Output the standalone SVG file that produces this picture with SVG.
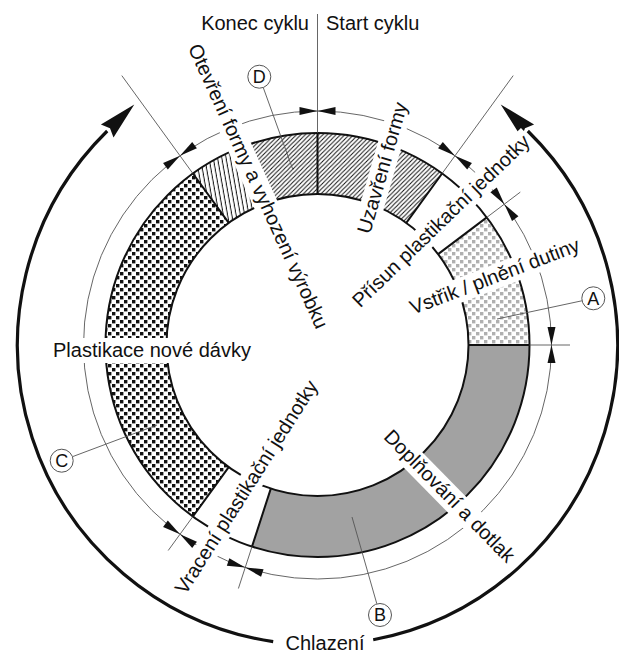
<svg xmlns="http://www.w3.org/2000/svg" width="619" height="657" viewBox="0 0 619 657">
<defs>
<style>
text{font-family:"Liberation Sans",Arial,sans-serif;font-size:20px;fill:#111}
text.lbl{font-size:18px;text-anchor:middle}
.thin{fill:none;stroke:#555;stroke-width:0.9}
.edge{fill:none;stroke:#111;stroke-width:2}
.band{fill:#fff}
.thick{fill:none;stroke:#111;stroke-width:3.2}
.circ{fill:#fff;stroke:#555;stroke-width:1}
</style>
<pattern id="pDiag" width="4.4" height="4.4" patternUnits="userSpaceOnUse"><path d="M-1,1 L1,-1 M0,4.4 L4.4,0 M3.4,5.4 L5.4,3.4" stroke="#111" stroke-width="1"/></pattern>
<pattern id="pVert" width="4.2" height="4" patternUnits="userSpaceOnUse" patternTransform="rotate(-10)"><path d="M2,-1 V5" stroke="#111" stroke-width="1"/></pattern>
<pattern id="pSq" width="8" height="8" patternUnits="userSpaceOnUse"><rect x="0" y="0" width="3.4" height="3.4" fill="#111"/><rect x="4" y="4" width="3.4" height="3.4" fill="#111"/></pattern>
<pattern id="pLight" width="8" height="8" patternUnits="userSpaceOnUse"><rect x="0" y="0" width="3.4" height="3.4" fill="#b0b0b0"/><rect x="4" y="4" width="3.4" height="3.4" fill="#b0b0b0"/></pattern>
<g id="dim" fill="#111"><polygon points="-18,-4 0,0 -18,4"/><polygon points="18,-4 0,0 18,4"/></g>
</defs>
<rect width="619" height="657" fill="#fff"/>

<g id="segments">
<path id="seg-open" d="M192.9,173.5 A212,212 0 0 1 241.5,147.1 L263.4,204 A151,151 0 0 0 228.7,222.8 Z" fill="url(#pVert)"/>
<path id="seg-D" d="M241.5,147.1 A212,212 0 0 1 442.1,173.5 L406.3,222.8 A151,151 0 0 0 263.4,204 Z" fill="url(#pDiag)"/>
<path id="seg-A" d="M486.8,217.4 A212,212 0 0 1 529.5,345 L468.5,345 A151,151 0 0 0 438.1,254.1 Z" fill="url(#pLight)"/>
<path id="seg-B" d="M529.5,345 A212,212 0 0 1 252,546.6 L270.8,488.6 A151,151 0 0 0 468.5,345 Z" fill="#a2a2a2"/>
<path id="seg-C" d="M192.9,516.5 A212,212 0 0 1 192.9,173.5 L228.7,222.8 A151,151 0 0 0 228.7,467.2 Z" fill="url(#pSq)"/>
</g>

<g id="ring-outline" class="edge">
<circle cx="317.5" cy="345" r="212"/>
<circle cx="317.5" cy="345" r="151"/>
<path d="M228.7,222.8 L192.9,173.5 M317.5,194 L317.5,133 M406.3,222.8 L442.1,173.5 M438.1,254.1 L486.8,217.4 M468.5,345 L529.5,345 M270.8,488.6 L252,546.6 M228.7,467.2 L192.9,516.5"/>
</g>

<g id="connectors">
<circle class="thin" cx="317.5" cy="345" r="234"/>
<path class="thin" d="M317.5,14 V133 M121.8,75.6 L192.9,173.5 M513.2,75.6 L442.1,173.5 M520.3,192.1 L486.8,217.4 M529.5,345 H570 M238.4,588.5 L252,546.6 M168.2,550.5 L192.9,516.5"/>
<path class="thick" d="M273.2,641.7 A300,300 0 0 1 107.2,131"/>
<path class="thick" d="M527.8,131 A300,300 0 0 1 373.2,639.8"/>
<polygon points="134.3,104.4 100.9,124.6 110,128.2 113.5,137.4" fill="#111"/>
<polygon points="500.7,104.4 534.1,124.6 525,128.2 521.5,137.4" fill="#111"/>
</g>

<g id="bands" class="band">
<rect x="-158" y="-18" width="316" height="24" transform="translate(252.1,188.9) rotate(65.5)"/>
<rect x="-71" y="-18" width="142" height="24" transform="translate(388.8,169.7) rotate(-74)"/>
<rect x="-122" y="-18" width="244" height="24" transform="translate(445.7,225.8) rotate(-44)"/>
<rect x="-93" y="-18" width="186" height="24" transform="translate(497.1,282.6) rotate(-21)"/>
<rect x="-91" y="-18" width="182" height="24" transform="translate(444.7,500.7) rotate(45.5)"/>
<rect x="-127" y="-18" width="254" height="24" transform="translate(252.1,490.7) rotate(-57.6)"/>
<rect x="50" y="338" width="208" height="25"/>
</g>

<g id="dims">
<use href="#dim" transform="translate(317.5,111)"/>
<use href="#dim" transform="translate(455,155.7) rotate(36)"/>
<use href="#dim" transform="translate(504.4,204.2) rotate(53)"/>
<use href="#dim" transform="translate(551.5,345) rotate(90)"/>
<use href="#dim" transform="translate(245.2,567.5) rotate(198)"/>
<use href="#dim" transform="translate(180,534.3) rotate(216)"/>
<use href="#dim" transform="translate(180,155.7) rotate(-36)"/>
</g>

<g id="leaders" class="thin">
<path d="M263.3,87.7 L293,170 M581.9,300.8 L497,319 M376.8,603.7 L352,517 M72.7,456.6 L157,425"/>
</g>

<g id="labels">
<text x="309" y="30" text-anchor="end">Konec cyklu</text>
<text x="326" y="30">Start cyklu</text>
<text text-anchor="middle" transform="translate(252.1,188.9) rotate(65.5)">Otevření formy a vyhození výrobku</text>
<text text-anchor="middle" transform="translate(388.8,169.7) rotate(-74)">Uzavření formy</text>
<text text-anchor="middle" transform="translate(445.7,225.8) rotate(-44)">Přísun plastikační jednotky</text>
<text text-anchor="middle" transform="translate(497.1,282.6) rotate(-21)">Vstřik / plnění dutiny</text>
<text text-anchor="middle" transform="translate(444.7,500.7) rotate(45.5)">Doplňování a dotlak</text>
<text text-anchor="middle" transform="translate(252.1,490.7) rotate(-57.6)">Vracení plastikační jednotky</text>
<text x="53" y="357">Plastikace nové dávky</text>
<text x="325" y="650" text-anchor="middle">Chlazení</text>
</g>

<g id="node-D"><circle class="circ" cx="259.3" cy="76.7" r="11.5"/><text class="lbl" x="259.3" y="83">D</text></g>
<g id="node-A"><circle class="circ" cx="593.3" cy="298.3" r="11.5"/><text class="lbl" x="593.3" y="304.6">A</text></g>
<g id="node-B"><circle class="circ" cx="380" cy="615" r="11.5"/><text class="lbl" x="380" y="621.3">B</text></g>
<g id="node-C"><circle class="circ" cx="61.7" cy="460.7" r="11.5"/><text class="lbl" x="61.7" y="467">C</text></g>
</svg>
